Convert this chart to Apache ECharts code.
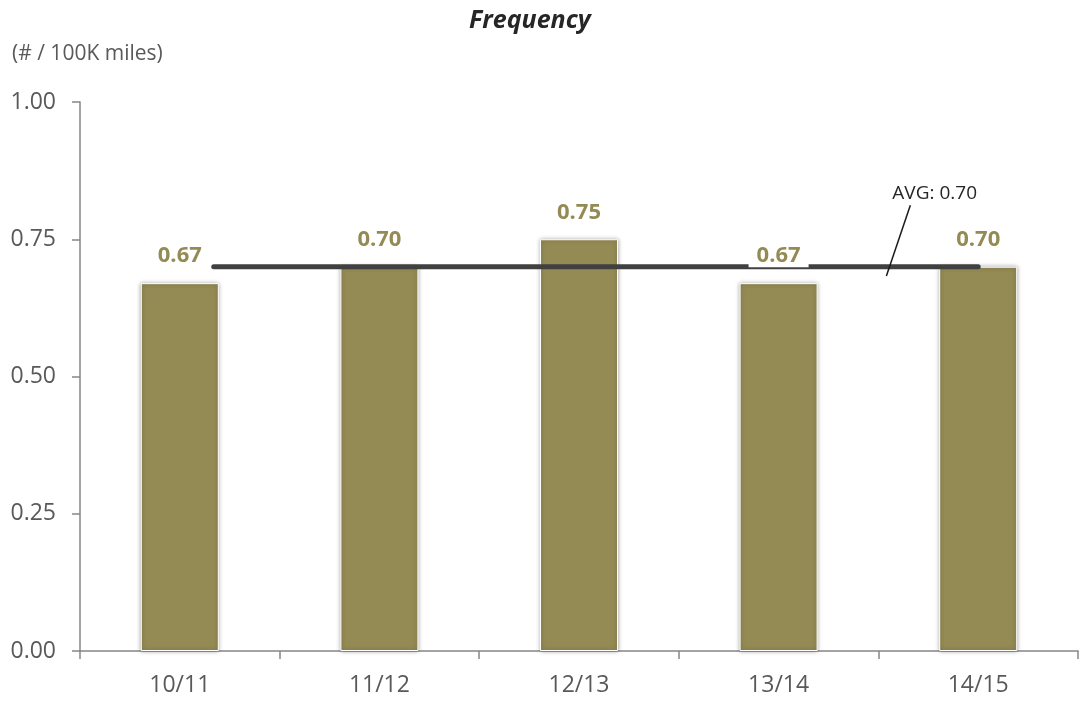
<!DOCTYPE html>
<html>
<head>
<meta charset="utf-8">
<script src="https://cdn.jsdelivr.net/npm/echarts@6/dist/echarts.min.js"></script>
<style>
  html, body { margin: 0; padding: 0; background: #ffffff; }
  #chart { width: 1082px; height: 704px; }
</style>
</head>
<body>
<div id="chart"></div>
<script>
// Seasons and incident frequency per 100K miles
const categories = ['10/11', '11/12', '12/13', '13/14', '14/15'];
const frequency = [0.67, 0.70, 0.75, 0.67, 0.70];
const yTicks = [0, 0.25, 0.5, 0.75, 1.0];

// Average reference line: value and its span in category units
const avgValue = 0.70;
const avgSpan = [0.67, 4.5];
// Callout for the average: leader line from/to (category units, value)
const calloutFrom = [4.04, 0.683];
const calloutTo = [4.16, 0.812];
const calloutText = 'AVG: ' + avgValue.toFixed(2);

// Labels that sit on the average line get a white plate behind them
const labelOnLine = [false, false, false, true, false];

const FONT = '"Open Sans", "Noto Sans", sans-serif';
const OLIVE = '#948A54';

const chart = echarts.init(document.getElementById('chart'));

const labelData = frequency.map((v, i) => ({
  value: v,
  label: labelOnLine[i]
    ? { backgroundColor: '#ffffff', padding: [0, 8, 0, 8] }
    : {}
}));

const unitLabel = {
  type: 'text',
  left: 12,
  top: 44,
  style: { text: '(# / 100K miles)', fontFamily: FONT, fontSize: 21, fill: '#595959' }
};

chart.setOption({
  animation: false,
  backgroundColor: '#ffffff',
  title: {
    text: 'Frequency',
    left: 464,
    top: 3,
    textStyle: {
      fontFamily: FONT, fontSize: 25, fontWeight: 'bold', fontStyle: 'italic', color: '#262626'
    }
  },
  graphic: [unitLabel],
  grid: { left: 80, right: 4, top: 102, bottom: 53, containLabel: false },
  xAxis: [{
    type: 'category',
    data: categories,
    boundaryGap: true,
    axisLine: { lineStyle: { color: '#868686', width: 1.5 } },
    axisTick: { show: true, length: 8, alignWithLabel: false, lineStyle: { color: '#868686', width: 1.5 } },
    axisLabel: { fontFamily: FONT, fontSize: 23, color: '#595959', margin: 23 }
  }, {
    type: 'value',
    min: 0,
    max: categories.length,
    show: false
  }],
  yAxis: {
    type: 'value',
    min: yTicks[0],
    max: yTicks[yTicks.length - 1],
    interval: 0.25,
    splitLine: { show: false },
    axisLine: { show: true, lineStyle: { color: '#868686', width: 1.5 } },
    axisTick: { show: true, length: 8, lineStyle: { color: '#868686', width: 1.5 } },
    axisLabel: {
      fontFamily: FONT, fontSize: 23, color: '#595959', margin: 24,
      formatter: v => v.toFixed(2)
    }
  },
  series: [{
    // bars
    type: 'bar',
    data: frequency,
    barWidth: 78,
    z: 2,
    itemStyle: {
      color: OLIVE,
      borderColor: '#ffffff',
      borderWidth: 1,
      shadowBlur: 4,
      shadowColor: 'rgba(0,0,0,0.35)'
    }
  }, {
    // average line, drawn over the bars
    type: 'line',
    xAxisIndex: 1,
    z: 3,
    data: avgSpan.map(x => [x, avgValue]),
    symbol: 'none',
    lineStyle: { color: '#404040', width: 5, cap: 'round' },
    silent: true
  }, {
    // value labels, drawn over the average line
    type: 'bar',
    data: labelData,
    barWidth: 78,
    barGap: '-100%',
    z: 4,
    itemStyle: { color: 'rgba(0,0,0,0)' },
    label: {
      show: true,
      position: 'top',
      distance: 16,
      fontFamily: FONT,
      fontSize: 22,
      fontWeight: 'bold',
      color: OLIVE,
      formatter: p => p.value.toFixed(2)
    }
  }]
});

// Callout for the average line, placed through the chart's own scales
const finder = { xAxisIndex: 1, yAxisIndex: 0 };
const p0 = chart.convertToPixel(finder, calloutFrom);
const p1 = chart.convertToPixel(finder, calloutTo);
chart.setOption({
  graphic: [unitLabel, {
    type: 'line',
    shape: { x1: p0[0], y1: p0[1], x2: p1[0], y2: p1[1] },
    style: { stroke: '#1a1a1a', lineWidth: 1.5 },
    z: 10
  }, {
    type: 'text',
    x: p1[0] - 18,
    y: p1[1] - 2,
    style: {
      text: calloutText, fontFamily: FONT, fontSize: 19, fill: '#262626',
      textAlign: 'left', textVerticalAlign: 'bottom'
    },
    z: 10
  }]
});
</script>
</body>
</html>
